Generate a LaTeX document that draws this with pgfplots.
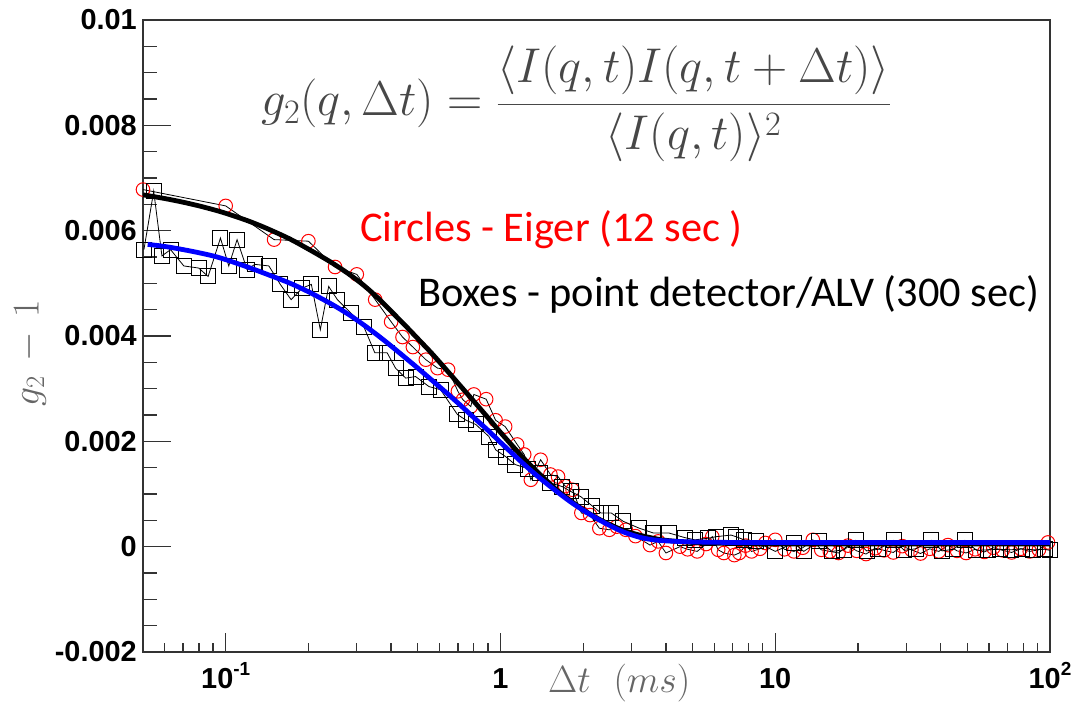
\RequirePackage{fix-cm}
\documentclass[border=0pt]{standalone}
\usepackage{pgfplots}
\pgfplotsset{compat=1.18}
\usepackage{fontspec}
\setmainfont{Liberation Sans}
\newfontfamily\carlito{Carlito}
\begin{document}
\begin{tikzpicture}[x=1bp,y=1bp]
\useasboundingbox[fill=white] (-143,-69) rectangle (930,652);
\begin{axis}[at={(0,0)}, anchor=south west, scale only axis,
  width=907bp, height=632bp,
  xmode=log, xmin=0.05, xmax=100, ymin=-2, ymax=10,
  axis line style={black!80, line width=1.3bp},
  tick style={black!80, line width=1.3bp},
  tick pos=left, tick align=inside,
  xtick={0.1,1,10,100},
  xticklabels={10\raisebox{0.45em}{\fontsize{19}{20}\selectfont -1},1,10,10\raisebox{0.45em}{\fontsize{19}{20}\selectfont 2}},
  minor xtick={0.06,0.07,0.08,0.09,0.2,0.3,0.4,0.5,0.6,0.7,0.8,0.9,2,3,4,5,6,7,8,9,20,30,40,50,60,70,80,90},
  ytick={-2,0,2,4,6,8,10},
  yticklabels={-0.002,0,0.002,0.004,0.006,0.008,0.01},
  minor y tick num=3,
  major tick length=28bp, minor tick length=14bp,
  xtick style={/pgfplots/major tick length=19bp, /pgfplots/minor tick length=9bp},
  ticklabel style={font=\fontsize{29}{30}\selectfont\bfseries},
  yticklabel style={inner sep=0pt, xshift=-6bp},
  xticklabel style={inner sep=0pt, anchor=base, yshift=-37bp},
  clip mode=individual,
]
% Eiger (circles)
\addplot[black, line width=0.8bp, mark=o, mark size=6.8bp, mark options={red, solid, line width=1bp}] table {
x y
0.05 6.78
0.10 6.47
0.15 5.83
0.20 5.80
0.25 5.31
0.30 5.17
0.35 4.69
0.40 4.27
0.44 3.98
0.48 3.79
0.535 3.55
0.59 3.39
0.645 3.36
0.70 2.95
0.73 2.79
0.78 2.66
0.80 2.89
0.887 2.80
0.96 2.40
1.04 2.28
1.15 1.94
1.22 1.75
1.29 1.27
1.40 1.65
1.52 1.37
1.62 1.33
1.72 1.15
1.83 1.08
1.97 0.64
2.12 0.60
2.29 0.35
2.49 0.32
2.65 0.38
2.86 0.32
3.10 0.20
3.50 0.03
3.75 0.10
4.00 -0.12
4.50 0.00
4.80 -0.05
5.20 -0.09
5.60 0.05
5.90 0.19
6.20 -0.06
6.50 -0.12
7.10 -0.16
7.40 -0.12
7.80 0.02
8.20 -0.09
8.80 -0.04
9.20 0.07
10.0 0.13
10.8 -0.05
11.7 -0.09
12.6 -0.02
13.7 0.13
14.7 -0.06
15.8 -0.09
17.0 -0.12
18.4 0.02
19.8 -0.08
21.4 -0.14
23.1 -0.03
24.9 -0.07
26.9 -0.11
29.0 0.01
31.3 -0.06
33.8 -0.13
36.5 -0.04
39.4 -0.09
42.5 0.03
45.9 -0.08
49.5 -0.12
53.4 -0.05
57.7 -0.10
62.2 -0.02
67.2 -0.07
72.5 -0.11
78.2 -0.04
84.4 -0.09
91.1 -0.06
98.3 0.08
};
% ALV (boxes)
\addplot[black, line width=0.8bp, mark=square, mark size=7.5bp, mark options={black, solid, line width=1bp}] table {
x y
0.0504 5.64
0.0547 6.75
0.0586 5.52
0.063 5.64
0.0704 5.33
0.0798 5.29
0.0863 5.13
0.0957 5.86
0.1026 5.33
0.110 5.83
0.1196 5.26
0.1276 5.36
0.1436 5.33
0.158 4.98
0.173 4.69
0.190 4.91
0.205 4.98
0.221 4.12
0.237 4.94
0.255 4.69
0.285 4.44
0.318 4.18
0.349 3.68
0.387 3.68
0.415 3.39
0.452 3.20
0.491 3.23
0.549 3.04
0.605 2.98
0.697 2.51
0.75 2.40
0.813 2.32
0.908 2.09
0.96 1.84
1.05 1.70
1.13 1.56
1.26 1.48
1.39 1.40
1.52 1.21
1.68 1.14
1.80 1.05
1.96 0.95
2.15 0.78
2.32 0.64
2.53 0.64
2.80 0.48
3.2 0.35
3.6 0.26
4.1 0.26
4.7 0.17
5.1 0.13
5.7 0.16
6.1 0.19
6.9 0.22
7.2 0.19
7.7 0.13
8.5 0.10
10.0 -0.09
11.7 0.07
12.7 -0.09
14.4 0.10
16.1 -0.09
17.8 -0.06
19.6 0.12
21.5 -0.08
23.7 -0.05
27.0 0.12
29.5 -0.07
32.5 -0.04
37.0 0.12
40.5 -0.08
44.5 -0.05
49.0 0.12
54.0 -0.07
59.5 -0.06
65.5 -0.05
72.0 -0.06
79.0 -0.04
87.0 -0.06
95.5 -0.05
100 -0.07
};
% fit to circles (black)
\addplot[black, line width=4.8bp, smooth] table {
x y
0.05 6.68
0.06 6.61
0.07 6.54
0.08 6.47
0.09 6.40
0.10 6.33
0.12 6.19
0.14 6.05
0.17 5.85
0.20 5.65
0.24 5.41
0.28 5.18
0.32 4.95
0.36 4.71
0.40 4.47
0.45 4.20
0.50 3.95
0.56 3.68
0.63 3.38
0.71 3.07
0.80 2.76
0.90 2.45
1.00 2.17
1.12 1.88
1.25 1.61
1.40 1.36
1.60 1.08
1.80 0.87
2.00 0.70
2.25 0.54
2.50 0.42
2.80 0.31
3.20 0.22
3.60 0.16
4.00 0.12
5.00 0.08
7.00 0.06
10 0.05
20 0.05
50 0.05
100 0.05
};
% fit to boxes (blue)
\addplot[blue, line width=4.8bp, smooth] table {
x y
0.052 5.74
0.06 5.70
0.07 5.64
0.08 5.58
0.09 5.52
0.10 5.45
0.12 5.31
0.14 5.18
0.17 5.01
0.20 4.84
0.24 4.62
0.28 4.41
0.32 4.20
0.36 4.00
0.40 3.81
0.45 3.59
0.50 3.39
0.56 3.17
0.63 2.94
0.71 2.70
0.80 2.45
0.90 2.21
1.00 1.98
1.12 1.74
1.25 1.51
1.40 1.29
1.60 1.05
1.80 0.85
2.00 0.69
2.25 0.53
2.50 0.40
2.80 0.28
3.20 0.18
3.60 0.13
4.00 0.11
5.00 0.09
7.00 0.08
10 0.08
20 0.08
50 0.08
100 0.08
};
\end{axis}
\node[text=black!72, anchor=center, inner sep=0pt] at (433,548)
  {\fontsize{49}{54}\selectfont $\displaystyle g_2(q,\Delta t)=\frac{\langle I(q,t)I(q,t+\Delta t)\rangle}{\langle I(q,t)\rangle^2}$};
\node[text=red, anchor=base west, inner sep=0pt] at (217,410)
  {\carlito\fontsize{42.5}{46}\selectfont Circles - Eiger (12 sec )};
\node[text=black, anchor=base west, inner sep=0pt] at (275,345)
  {\carlito\fontsize{42.5}{46}\selectfont Boxes - point detector/ALV (300 sec)};
\node[text=black!60, rotate=90, inner sep=0pt] at (-113,299)
  {\fontsize{38}{42}\selectfont $g_2\mkern3mu-\mkern3mu1$};
\node[text=black!60, anchor=base west, inner sep=0pt] at (405,-41)
  {\fontsize{38}{42}\selectfont $\Delta t\hspace{0.6em}(ms)$};
\end{tikzpicture}
\end{document}
